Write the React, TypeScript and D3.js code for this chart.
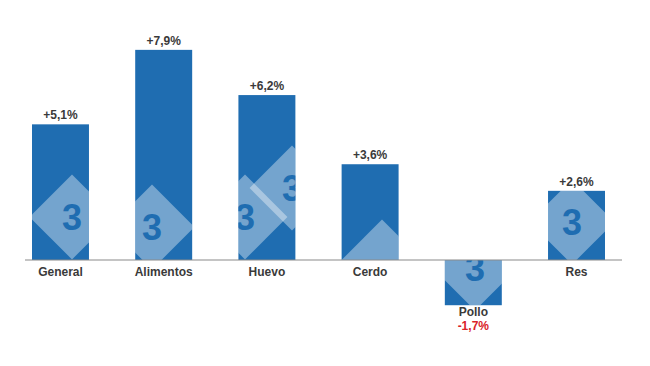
import * as d3 from "d3";

const categories = ["General", "Alimentos", "Huevo", "Cerdo", "Pollo", "Res"];
const values = [5.1, 7.9, 6.2, 3.6, -1.7, 2.6];
const valueLabels = ["+5,1%", "+7,9%", "+6,2%", "+3,6%", "-1,7%", "+2,6%"];

// watermark logo centres (decoration only), third item: show the "3"
const marks: [number, number, boolean][] = [
  [72, 217, true],
  [152, 227, true],
  [245, 217, true],
  [292, 188, true],
  [382, 262, false],
  [475, 268, true],
  [572, 222, true],
];

const W = 650;
const H = 366;
const blue = "#1f6db1";
const textColor = "#3a3a3a";

const App = () => {
  const x = d3.scaleBand().domain(categories).range([32, 605]).paddingInner(0.448).paddingOuter(0);
  const y = d3.scaleLinear().domain([-2, 8]).range([313.2, 47.2]);
  const data = categories.map((c, i) => ({ name: c, value: values[i], label: valueLabels[i] }));
  const bw = x.bandwidth();

  return (
    <svg width={W} height={H} style={{ position: "absolute", left: 0, top: 0, background: "#fff" }}>
      <defs>
        <clipPath id="bars">
          {data.map((d) => (
            <rect key={d.name} x={x(d.name)} y={y(Math.max(0, d.value))} width={bw} height={Math.abs(y(d.value) - y(0))} />
          ))}
        </clipPath>
      </defs>
      {data.map((d) => (
        <rect key={d.name} x={x(d.name)} y={y(Math.max(0, d.value))} width={bw} height={Math.abs(y(d.value) - y(0))} fill={blue} />
      ))}
      <g clipPath="url(#bars)">
        {marks.map(([cx, cy, show], i) => (
          <g key={i} transform={`translate(${cx},${cy})`}>
            <rect x={-30} y={-30} width={60} height={60} transform="rotate(45)" fill="#ffffff" opacity={0.38} />
            {show && (
              <text textAnchor="middle" dy="0.36em" fontFamily="Liberation Sans, Arial, sans-serif" fontWeight="bold" fontSize={36} fill={blue}>3</text>
            )}
          </g>
        ))}
      </g>
      <line x1={25} x2={622} y1={y(0)} y2={y(0)} stroke="#8a8a8a" strokeWidth={1.2} />
      <g fontFamily="Liberation Sans, Arial, sans-serif" fontWeight="bold" fontSize={12} textAnchor="middle">
        {data.map((d) => {
          const cx = (x(d.name) as number) + bw / 2;
          if (d.value >= 0) {
            return (
              <g key={d.name}>
                <text x={cx} y={y(d.value) - 5} fill={textColor}>{d.label}</text>
                <text x={cx} y={y(0) + 16} fill={textColor}>{d.name}</text>
              </g>
            );
          }
          return (
            <g key={d.name}>
              <text x={cx} y={y(d.value) + 11} fill={textColor}>{d.name}</text>
              <text x={cx} y={y(d.value) + 25} fill="#d9222a">{d.label}</text>
            </g>
          );
        })}
      </g>
    </svg>
  );
};

export default App;
